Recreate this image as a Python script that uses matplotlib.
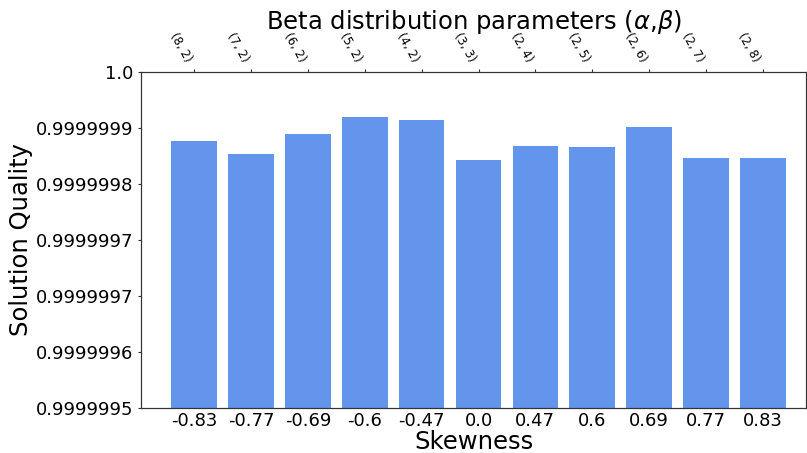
import matplotlib
matplotlib.use("Agg")
import matplotlib.pyplot as plt

skewness = ["-0.83", "-0.77", "-0.69", "-0.6", "-0.47", "0.0", "0.47", "0.6", "0.69", "0.77", "0.83"]
params = ["(8, 2)", "(7, 2)", "(6, 2)", "(5, 2)", "(4, 2)", "(3, 3)",
          "(2, 4)", "(2, 5)", "(2, 6)", "(2, 7)", "(2, 8)"]
quality = [0.9999998976, 0.9999998782, 0.9999999080, 0.9999999333, 0.9999999289,
           0.9999998693, 0.9999998901, 0.9999998886, 0.9999999184, 0.9999998722,
           0.9999998722]
ytick_vals = [0.9999995 + i * (5e-7 / 6) for i in range(7)]
ytick_labels = ["0.9999995", "0.9999996", "0.9999997", "0.9999997",
                "0.9999998", "0.9999999", "1.0"]

fig = plt.figure(figsize=(8.07, 4.53), dpi=100)
ax = fig.add_axes([0.1751, 0.1, 0.8237, 0.7404])
x = list(range(len(quality)))
ax.bar(x, quality, width=0.8, color="cornflowerblue")
ax.set_xlim(-0.93, 10.76)
ax.set_ylim(0.9999995, 1.0)
ax.set_yticks(ytick_vals)
ax.set_yticklabels(ytick_labels, fontsize=13)
ax.set_xticks(x)
ax.set_xticklabels(skewness, fontsize=13)
ax.tick_params(axis="x", length=0, pad=3)
ax.tick_params(axis="y", length=2, color="#333333")
ax.set_xlabel("Skewness", fontsize=17.5, labelpad=0)
ax.set_ylabel("Solution Quality", fontsize=17.5, labelpad=2)

# top axis with the (alpha, beta) pairs
ax2 = ax.twiny()
ax2.set_xlim(ax.get_xlim())
ax2.set_xticks(x)
ax2.set_xticklabels(params, fontsize=8.5, rotation=-60, ha="right")
ax2.tick_params(axis="x", length=2, color="#333333")
ax2.set_xlabel(r"Beta distribution parameters ($\alpha$,$\beta$)", fontsize=17.5, labelpad=1)

for a in (ax, ax2):
    for s in a.spines.values():
        s.set_color("#333333")

fig.savefig("out.png", dpi=100)
